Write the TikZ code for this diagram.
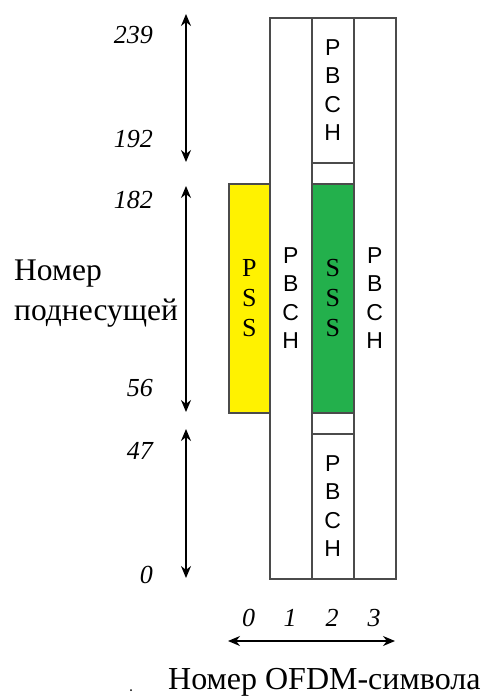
\documentclass[tikz,border=0pt]{standalone}
\usepackage{fontspec}
\setmainfont{Liberation Serif}
\setsansfont{Liberation Sans}
\usepackage{xcolor}
\usetikzlibrary{arrows.meta,positioning}

\definecolor{pssyellow}{RGB}{255,242,0}
\definecolor{sssgreen}{RGB}{35,176,76}
\definecolor{edgegray}{RGB}{75,75,75}

\begin{document}
\begin{tikzpicture}[x=1pt, y=-1pt,
  cell/.style={draw=edgegray, line width=1.6pt, minimum width=42pt, inner sep=0pt,
    anchor=north west, align=center},
  chan/.style={font=\sffamily\fontsize{23}{28.5}\selectfont},
  sig/.style={font=\fontsize{26}{30}\selectfont},
  num/.style={font=\itshape\fontsize{26}{30}\selectfont, inner sep=0pt},
  caption/.style={font=\fontsize{32}{40}\selectfont, inner sep=0pt},
  span/.style={{Stealth[length=12pt,width=10pt]}-{Stealth[length=12pt,width=10pt]},
    line width=1.3pt}]
\useasboundingbox (0,0) rectangle (485,697);

% OFDM symbols 1 and 3 carry PBCH over the whole band
\node[cell, chan, minimum height=561pt] (sym1) at (269,17) {P\\B\\C\\H};
\node[cell, chan, minimum height=561pt] (sym3) at (353,17) {P\\B\\C\\H};

% Symbol 2: PBCH above and below the SSS
\node[cell, minimum height=561pt] (sym2) at (311,17) {};
\node[cell, chan, minimum height=145pt] (pbchhi) at (311,17) {P\\B\\C\\H};
\node[cell, chan, minimum height=145pt] (pbchlo) at (311,433) {P\\B\\C\\H};
\node[cell, sig, fill=sssgreen, minimum height=229pt] (sss) at (311,183) {S\\S\\S};

% Symbol 0: PSS
\node[cell, sig, fill=pssyellow, minimum width=41pt, minimum height=229pt] (pss) at (228,183) {P\\S\\S};

% Subcarrier ranges
\coordinate (hiTop) at (186,14);
\coordinate (hiBot) at (186,162);
\coordinate (midTop) at (186,186);
\coordinate (midBot) at (186,412);
\coordinate (loTop) at (186,429);
\coordinate (loBot) at (186,578);
\draw[span] (hiTop) -- (hiBot);
\draw[span] (midTop) -- (midBot);
\draw[span] (loTop) -- (loBot);

\node[num, anchor=east] (k239) at (153,35) {239};
\node[num, anchor=east] (k192) at (153,139) {192};
\node[num, anchor=east] (k182) at (153,200) {182};
\node[num, anchor=east] (k56) at (153,388) {56};
\node[num, anchor=east] (k47) at (153,451) {47};
\node[num, anchor=east] (k0) at (153,575) {0};

\node[caption, font=\fontsize{31.5}{40}\selectfont, anchor=base west, align=left] (ylabel) at (14,320) {Номер\\поднесущей};

% Symbol numbers
\node[num] (l0) at (248.5,618) {0};
\node[num] (l1) at (290,618) {1};
\node[num] (l2) at (332,618) {2};
\node[num] (l3) at (374,618) {3};

\coordinate (tLeft) at (228,641);
\coordinate (tRight) at (395,641);
\draw[span] (tLeft) -- (tRight);

\node[caption, anchor=base west] (xlabel) at (168,689) {Номер OFDM-символа};
\fill (131,690) circle (1pt);
\end{tikzpicture}
\end{document}
